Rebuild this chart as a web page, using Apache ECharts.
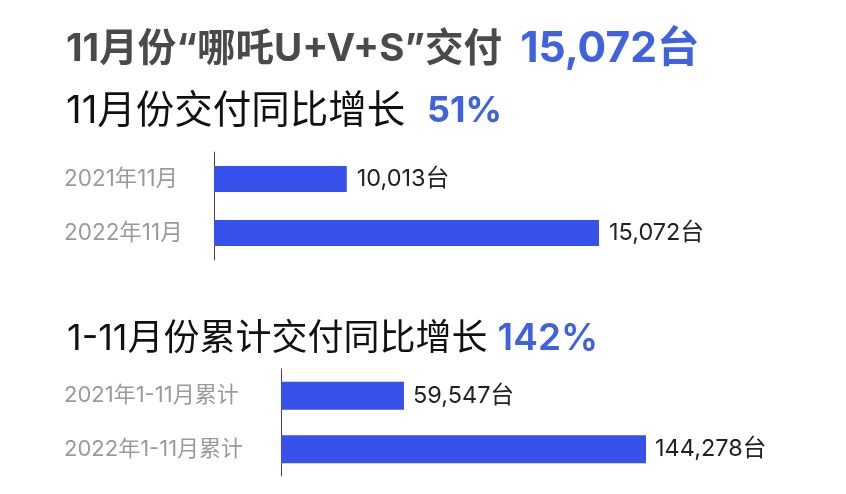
<!DOCTYPE html>
<html>
<head>
<meta charset="utf-8">
<script src="https://cdn.jsdelivr.net/npm/echarts@6/dist/echarts.min.js"></script>
<style>
html,body{margin:0;padding:0;background:#fff;}
#c{width:846px;height:494px;}
</style>
</head>
<body>
<div id="c"></div>
<script>
// ---- data ----
const headline = '11月份“哪吒U+V+S”交付';
const headlineNum = '15,072台';
const title2Text = '11月份交付同比增长';
const title2Num = '51%';
const title3Text = '1-11月份累计交付同比增长';
const title3Num = '142%';

const cats1 = ['2021年11月', '2022年11月'];
const vals1 = [10013, 15072];
const cats2 = ['2021年1-11月累计', '2022年1-11月累计'];
const vals2 = [59547, 144278];
const unit = '台';

// ---- chart ----
const FF = "Inter, 'Noto Sans CJK SC', sans-serif";
const BLUE_BAR = '#3652ea';
const BLUE_TXT = '#3f63e0';
const chart = echarts.init(document.getElementById('c'));
const fmt = p => Number(p.value).toLocaleString('en-US') + unit;

function catAxis(gi, cats, margin, fs) {
  return {
    type: 'category', gridIndex: gi, data: cats, inverse: true,
    axisLine: {show: true, lineStyle: {color: '#444', width: 1}},
    axisTick: {show: false},
    axisLabel: {align: 'left', margin: margin, color: '#9a9a9a', fontSize: fs, fontFamily: FF}
  };
}
function valAxis(gi, min, max) {
  return {
    type: 'value', gridIndex: gi, min: min, max: max,
    show: false, splitLine: {show: false}
  };
}
function barSeries(i, vals, bw, dist) {
  return {
    type: 'bar', xAxisIndex: i, yAxisIndex: i, data: vals, barWidth: bw,
    itemStyle: {color: BLUE_BAR},
    label: {show: true, position: 'right', distance: dist, formatter: fmt,
            color: '#222', fontSize: 23.5, fontFamily: FF},
    silent: true, animation: false
  };
}

chart.setOption({
  backgroundColor: '#fff',
  animation: false,
  title: [
    {left: 61, top: 21,
     text: '{a|' + headline + '  }{b|' + headlineNum + '}',
     textStyle: {rich: {
       a: {fontSize: 38.5, fontWeight: 'bold', color: '#4a4a4a', fontFamily: FF, lineHeight: 46},
       b: {fontSize: 42.5, fontWeight: 'bold', color: BLUE_TXT, fontFamily: FF, lineHeight: 46}
     }}},
    {left: 61, top: 83,
     text: '{a|' + title2Text + '  }{b|' + title2Num + '}',
     textStyle: {rich: {
       a: {fontSize: 38.5, fontWeight: 'normal', color: '#111', fontFamily: FF, lineHeight: 46},
       b: {fontSize: 36, fontWeight: 'bold', color: BLUE_TXT, fontFamily: FF, lineHeight: 46}
     }}},
    {left: 62, top: 311,
     text: '{a|' + title3Text + ' }{b|' + title3Num + '}',
     textStyle: {rich: {
       a: {fontSize: 36, fontWeight: 'normal', color: '#111', fontFamily: FF, lineHeight: 46},
       b: {fontSize: 37, fontWeight: '600', color: BLUE_TXT, fontFamily: FF, lineHeight: 46}
     }}}
  ],
  grid: [
    {left: 214, top: 152, width: 385, height: 108},
    {left: 281, top: 369, width: 365, height: 107}
  ],
  xAxis: [valAxis(0, 7350, 15072), valAxis(1, 16500, 144278)],
  yAxis: [catAxis(0, cats1, 150, 22.5), catAxis(1, cats2, 217, 22)],
  series: [barSeries(0, vals1, 26, 10), barSeries(1, vals2, 28, 9)]
});
</script>
</body>
</html>
